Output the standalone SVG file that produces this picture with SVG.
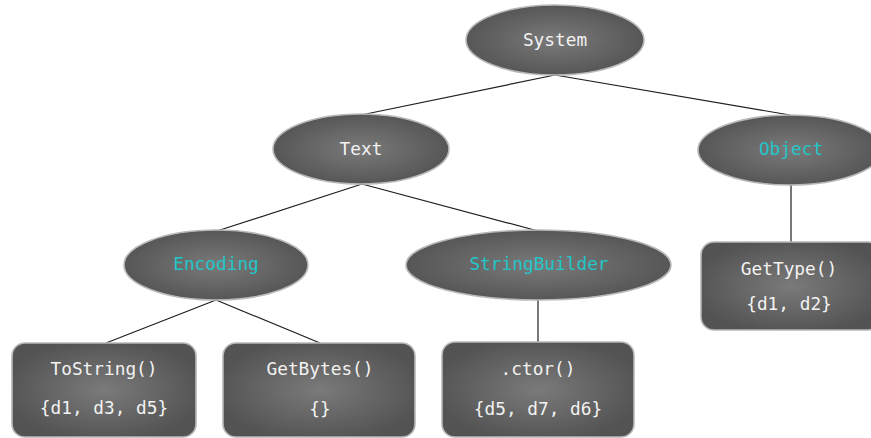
<svg xmlns="http://www.w3.org/2000/svg" width="871" height="438" viewBox="0 0 871 438">
  <defs>
    <radialGradient id="shade" cx="50%" cy="50%" r="55%">
      <stop offset="0" stop-color="#7a7a7a"/>
      <stop offset="1" stop-color="#535353"/>
    </radialGradient>
  </defs>
  <style>
    .shape { fill: url(#shade); stroke: #b8b8b8; stroke-width: 1.6; }
    .label { font-family: "DejaVu Sans Mono", "Liberation Mono", monospace; font-size: 17.8px; fill: #f2f2f2; text-anchor: middle; }
    .ns { fill: #22c6c8; }
    .edge { stroke: #1e1e1e; stroke-width: 1.2; fill: none; }
  </style>
  <rect width="871" height="438" fill="#ffffff"/>

  <g id="connectors">
    <line class="edge" x1="555" y1="75" x2="361" y2="115"/>
    <line class="edge" x1="555" y1="75" x2="790" y2="115"/>
    <line class="edge" x1="362" y1="184" x2="217" y2="231"/>
    <line class="edge" x1="362" y1="184" x2="538" y2="231"/>
    <line class="edge" x1="216" y1="300" x2="106" y2="343"/>
    <line class="edge" x1="216" y1="300" x2="320" y2="343"/>
    <line class="edge" x1="538" y1="300" x2="538" y2="342"/>
    <line class="edge" x1="791" y1="184" x2="791" y2="242"/>
  </g>

  <g id="system">
    <ellipse class="shape" cx="555" cy="40" rx="89" ry="35"/>
    <text class="label" x="555" y="46">System</text>
  </g>
  <g id="text">
    <ellipse class="shape" cx="361" cy="149" rx="88" ry="35"/>
    <text class="label" x="361" y="155">Text</text>
  </g>
  <g id="object">
    <ellipse class="shape" cx="790" cy="150" rx="92" ry="35"/>
    <text class="label ns" x="791" y="155">Object</text>
  </g>
  <g id="encoding">
    <ellipse class="shape" cx="216" cy="265" rx="92" ry="35"/>
    <text class="label ns" x="216" y="270">Encoding</text>
  </g>
  <g id="stringbuilder">
    <ellipse class="shape" cx="538.5" cy="265" rx="132.5" ry="35"/>
    <text class="label ns" x="539" y="270">StringBuilder</text>
  </g>
  <g id="tostring">
    <rect class="shape" x="12" y="343" width="184" height="94" rx="13"/>
    <text class="label" x="104" y="375">ToString()</text>
    <text class="label" x="104" y="414">{d1, d3, d5}</text>
  </g>
  <g id="getbytes">
    <rect class="shape" x="223" y="343" width="192" height="94" rx="13"/>
    <text class="label" x="320" y="375">GetBytes()</text>
    <text class="label" x="320" y="415">{}</text>
  </g>
  <g id="ctor">
    <rect class="shape" x="442" y="342" width="192" height="95" rx="13"/>
    <text class="label" x="538" y="375">.ctor()</text>
    <text class="label" x="538" y="415">{d5, d7, d6}</text>
  </g>
  <g id="gettype">
    <rect class="shape" x="701" y="242" width="180" height="88" rx="13"/>
    <text class="label" x="789" y="275">GetType()</text>
    <text class="label" x="789" y="310">{d1, d2}</text>
  </g>
</svg>
